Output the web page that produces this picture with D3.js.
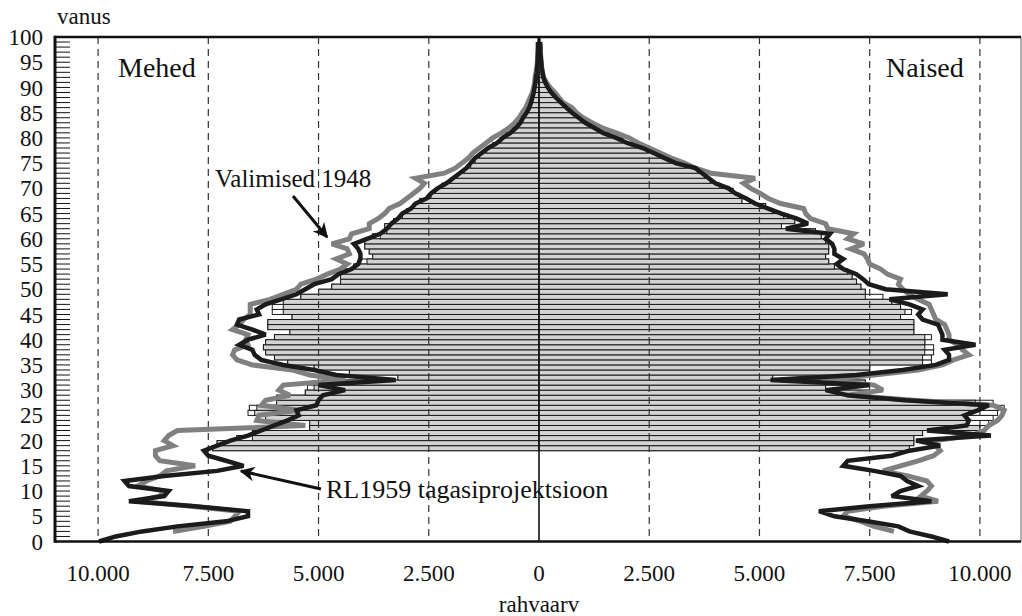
<!DOCTYPE html>
<html><head><meta charset="utf-8">
<script src="https://cdn.jsdelivr.net/npm/d3@7"></script>
<style>html,body{margin:0;padding:0;background:#fff;}svg{display:block;}</style>
</head><body>
<script>
// ---- DATA (values in thousands of people) ----
const ages = d3.range(0, 100);          // 0..99 (line points)
const barAges = d3.range(18, 100);      // 18..99 (bars)

const maleRL1959 = [
 9.98,9.6,9.0,8.2,7.1,6.6,6.6,7.8,9.3,8.5,
 8.4,9.3,9.4,8.5,7.3,6.7,7.1,7.5,7.6,7.3,
 7.0,6.6,6.3,6.0,5.7,5.45,5.5,5.05,5.0,4.9,
 4.4,5.0,3.25,4.6,5.1,5.8,6.3,6.45,6.5,6.8,
 6.6,6.2,6.5,6.85,6.8,6.35,6.4,6.2,5.85,5.5,
 5.3,5.1,4.7,4.55,4.25,4.1,4.05,4.05,4.1,4.2,
 3.9,3.6,3.45,3.35,3.2,3.1,2.9,2.8,2.55,2.45,
 2.3,2.1,1.95,1.8,1.65,1.55,1.45,1.3,1.15,0.95,
 0.82,0.65,0.52,0.42,0.36,0.28,0.22,0.18,0.15,0.12,
 0.1,0.08,0.07,0.05,0.04,0.03,0.03,0.02,0.02,0.02];

const maleVal1948 = [
 null,null,8.3,7.6,7.0,6.9,6.8,7.9,9.1,8.6,
 8.5,9.1,8.9,8.6,8.45,7.8,8.6,8.7,8.7,8.3,
 8.5,8.4,8.2,5.3,6.4,6.35,5.45,6.3,6.2,5.65,
 5.9,5.8,4.4,5.2,5.6,6.5,6.85,6.95,6.9,6.6,
 6.65,6.6,6.95,6.8,6.7,6.55,6.55,6.55,6.1,5.8,
 5.5,5.4,5.05,4.8,4.5,4.35,4.6,4.3,4.35,4.7,
 4.3,4.25,3.85,3.85,3.65,3.5,3.4,3.15,3.0,2.85,
 2.7,2.6,2.8,2.15,1.9,1.75,1.6,1.5,1.35,1.2,
 1.05,0.85,0.68,0.55,0.45,0.38,0.3,0.25,0.2,0.15,
 0.12,0.1,0.09,0.07,0.05,0.04,0.03,0.03,0.02,0.02];

const femaleRL1959 = [
 9.3,8.9,8.4,8.15,7.45,6.7,6.35,7.5,8.9,8.0,
 8.2,8.6,8.35,8.2,7.6,6.9,7.0,8.0,8.4,9.1,
 8.55,10.25,8.8,9.7,9.75,9.65,9.95,10.2,8.3,7.0,
 6.5,7.5,5.25,7.2,8.25,9.0,9.3,9.3,9.2,9.9,
 9.15,9.15,9.1,9.05,8.7,8.6,8.7,8.4,7.95,9.27,
 7.86,7.48,7.35,7.2,6.9,6.75,6.9,6.7,6.7,6.65,
 6.5,6.6,5.6,6.1,5.85,5.5,5.2,4.9,4.7,4.45,
 4.3,4.0,3.85,3.7,3.55,3.1,2.85,2.6,2.35,2.0,
 1.75,1.45,1.25,1.05,0.9,0.75,0.62,0.5,0.38,0.28,
 0.2,0.14,0.1,0.08,0.06,0.05,0.04,0.03,0.03,0.02];

const femaleVal1948 = [
 null,null,8.05,7.6,7.3,6.9,7.0,7.8,9.05,8.66,
 8.8,8.9,8.8,8.36,7.8,8.2,8.6,8.95,9.1,9.0,
 9.0,9.8,10.1,10.2,10.4,10.5,10.55,10.3,8.5,7.0,
 7.8,7.6,6.4,7.6,8.6,9.15,9.4,9.75,9.6,9.5,
 9.3,9.3,9.25,9.2,9.0,8.95,8.9,8.85,8.6,8.4,
 8.25,8.15,8.2,7.9,7.75,7.5,7.45,7.37,7.07,7.37,
 7.0,7.14,6.55,6.5,6.16,6.05,6.0,5.48,5.2,5.02,
 4.8,4.64,4.9,3.9,3.55,3.3,3.0,2.75,2.5,2.25,
 2.05,1.75,1.43,1.2,1.0,0.85,0.75,0.55,0.45,0.36,
 0.25,0.17,0.1,0.08,0.06,0.05,0.04,0.03,0.03,0.02];

// bars, ages 18..99
const maleBarGrey = [
 7.4,7.3,6.5,6.5,5.2,5.2,6.2,6.45,6.4,5.95,
 5.95,5.3,5.1,4.9,3.2,4.3,5.1,5.7,6.0,6.2,
 6.25,6.2,6.0,5.65,6.15,6.15,5.6,5.8,5.8,5.8,
 5.4,5.0,4.7,4.5,4.5,4.4,4.2,3.9,3.77,3.85,
 3.95,3.95,3.6,3.45,3.5,3.3,3.1,3.0,2.85,2.7,
 2.45,2.35,2.2,2.0,1.85,1.7,1.55,1.45,1.35,1.2,
 1.05,0.88,0.75,0.6,0.48,0.38,0.32,0.25,0.2,0.16,
 0.13,0.1,0.08,0.07,0.06,0.05,0.04,0.03,0.03,0.02,
 0.02,0.02];
const maleBarWhite = [
 7.4,7.3,6.86,6.5,5.2,5.2,6.2,6.6,6.57,5.95,
 5.95,5.3,5.25,4.9,3.2,4.3,5.1,5.7,6.0,6.2,
 6.25,6.2,6.0,5.65,6.15,6.15,5.6,6.05,6.05,6.05,
 5.4,5.0,4.7,4.5,4.5,4.4,4.2,4.1,3.77,3.85,
 3.95,3.95,3.78,3.45,3.5,3.3,3.1,3.0,2.85,2.7,
 2.45,2.35,2.2,2.0,1.85,1.7,1.55,1.45,1.35,1.2,
 1.05,0.88,0.75,0.6,0.48,0.38,0.32,0.25,0.2,0.16,
 0.13,0.1,0.08,0.07,0.06,0.05,0.04,0.03,0.03,0.02,
 0.02,0.02];
const femaleBarGrey = [
 8.4,8.5,8.5,8.7,10.0,9.7,9.7,9.75,9.97,9.9,
 7.5,7.5,6.5,7.4,5.3,7.5,7.5,8.7,8.7,8.75,
 8.75,8.75,8.75,8.5,8.5,8.5,8.2,8.3,8.2,8.0,
 7.4,7.4,7.3,7.2,7.1,7.0,6.7,6.57,6.5,6.57,
 6.57,6.5,6.4,6.27,5.5,5.8,5.55,5.3,5.14,4.6,
 4.55,4.4,4.1,3.88,3.75,3.6,3.3,3.0,2.75,2.45,
 2.2,1.9,1.6,1.35,1.16,1.0,0.9,0.7,0.55,0.45,
 0.35,0.25,0.17,0.1,0.07,0.05,0.04,0.03,0.03,0.02,
 0.02,0.02];
const femaleBarWhite = [
 8.4,8.5,8.5,8.7,10.15,10.2,10.3,10.4,10.55,10.3,
 7.5,7.5,6.5,7.4,5.3,7.5,7.5,8.9,8.9,8.95,
 8.95,8.75,8.9,8.5,8.5,8.5,8.2,8.45,8.2,8.0,
 7.8,7.4,7.3,7.2,7.1,7.0,6.7,6.57,6.5,6.57,
 6.57,6.5,6.4,6.27,5.5,5.8,5.55,5.3,5.14,4.6,
 4.55,4.4,4.1,3.88,3.75,3.6,3.3,3.0,2.75,2.45,
 2.2,1.9,1.6,1.35,1.16,1.0,0.9,0.7,0.55,0.45,
 0.35,0.25,0.17,0.1,0.07,0.05,0.04,0.03,0.03,0.02,
 0.02,0.02];

const xTickValues = [-10000,-7500,-5000,-2500,0,2500,5000,7500,10000];
const xTickLabels = ["10.000","7.500","5.000","2.500","0","2.500","5.000","7.500","10.000"];
const yTickValues = d3.range(0, 101, 5);
const gridValues = [-10000,-7500,-5000,-2500,2500,5000,7500,10000];

// ---- DRAW ----
const W = 1022, H = 616;
const svg = d3.select("body").append("svg").attr("width", W).attr("height", H);
const FONT = "'Liberation Serif'";

const x = d3.scaleLinear().domain([-11000, 11000]).range([54, 1024]);
const y = d3.scaleLinear().domain([0, 100]).range([541.5, 37]);
const left = 55, right = 1021;

svg.append("defs").append("marker")
  .attr("id","arr").attr("viewBox","0 0 10 10").attr("refX",9).attr("refY",5)
  .attr("markerWidth",5).attr("markerHeight",5).attr("orient","auto-start-reverse")
  .attr("markerUnits","strokeWidth")
  .append("path").attr("d","M0,0 L10,5 L0,10 L3,5 Z").attr("fill","#111");

// bars
function drawBars(vals, sign, fill, cls) {
  svg.append("g").selectAll("rect." + cls).data(barAges).join("rect")
    .attr("class", cls)
    .attr("x", (a, i) => sign < 0 ? x(-vals[i] * 1000) : x(0))
    .attr("width", (a, i) => Math.abs(x(vals[i] * 1000) - x(0)))
    .attr("y", a => y(a + 1))
    .attr("height", a => y(a) - y(a + 1))
    .attr("fill", fill).attr("stroke", "#1a1a1a").attr("stroke-width", 1);
}
drawBars(maleBarWhite, -1, "#ffffff", "mw");
drawBars(femaleBarWhite, 1, "#ffffff", "fw");
drawBars(maleBarGrey, -1, "#d3d3d3", "mg");
drawBars(femaleBarGrey, 1, "#d3d3d3", "fg");

// grid
svg.append("g").selectAll("line").data(gridValues).join("line")
  .attr("x1", d => x(d)).attr("x2", d => x(d))
  .attr("y1", y(100)).attr("y2", y(0))
  .attr("stroke", "#333").attr("stroke-width", 1.2).attr("stroke-dasharray", "7,5");
svg.append("line").attr("x1", x(0)).attr("x2", x(0)).attr("y1", y(100)).attr("y2", y(0))
  .attr("stroke", "#111").attr("stroke-width", 1.6);

// minor ticks
svg.append("g").selectAll("line").data(d3.range(0, 101)).join("line")
  .attr("x1", left).attr("x2", left + 15)
  .attr("y1", d => y(d)).attr("y2", d => y(d))
  .attr("stroke", "#111").attr("stroke-width", 1);

// lines
function drawLine(vals, sign, color, width) {
  const line = d3.line()
    .defined((a, i) => vals[i] !== null)
    .x((a, i) => x(sign * vals[i] * 1000))
    .y(a => y(a));
  svg.append("path").datum(ages).attr("d", line)
    .attr("fill", "none").attr("stroke", color).attr("stroke-width", width)
    .attr("stroke-linejoin", "miter").attr("stroke-miterlimit", 3);
}
drawLine(maleVal1948, -1, "#808080", 5);
drawLine(femaleVal1948, 1, "#808080", 5);
drawLine(maleRL1959, -1, "#1b1b1b", 4.5);
drawLine(femaleRL1959, 1, "#1b1b1b", 4.5);

// frame
svg.append("line").attr("x1", right).attr("x2", right).attr("y1", y(100)).attr("y2", y(0))
  .attr("stroke", "#999").attr("stroke-width", 1.5);
svg.append("line").attr("x1", left).attr("x2", right).attr("y1", y(100)).attr("y2", y(100))
  .attr("stroke", "#111").attr("stroke-width", 2.5);
svg.append("line").attr("x1", left).attr("x2", right).attr("y1", y(0)).attr("y2", y(0))
  .attr("stroke", "#111").attr("stroke-width", 2.5);
svg.append("line").attr("x1", left).attr("x2", left).attr("y1", y(100) - 1.2).attr("y2", y(0) + 1.2)
  .attr("stroke", "#111").attr("stroke-width", 3);

// y tick labels
svg.append("g").selectAll("text").data(yTickValues).join("text")
  .attr("x", 43).attr("y", d => y(d)).attr("dy", "0.35em")
  .attr("text-anchor", "end").style("font-family", FONT).style("font-size", "23px")
  .attr("fill", "#111").text(d => d);

// x tick labels
svg.append("g").selectAll("text").data(xTickValues).join("text")
  .attr("x", d => x(d)).attr("y", 581)
  .attr("text-anchor", "middle").style("font-family", FONT).style("font-size", "23px")
  .attr("fill", "#111").text((d, i) => xTickLabels[i]);

function txt(s, tx, ty, size, anchor) {
  svg.append("text").attr("x", tx).attr("y", ty).style("font-family", FONT)
    .style("font-size", size + "px").attr("text-anchor", anchor || "start").attr("fill", "#111").text(s);
}
txt("vanus", 57, 24, 23);
txt("rahvaarv", x(0), 612, 23, "middle");
txt("Mehed", 118, 77, 28);
txt("Naised", 886, 77, 28);
txt("Valimised 1948", 215, 187, 25);
txt("RL1959 tagasiprojektsioon", 326, 498, 26);

// arrows
svg.append("line").attr("x1", 293).attr("y1", 196).attr("x2", 327).attr("y2", 237)
  .attr("stroke", "#111").attr("stroke-width", 3).attr("marker-end", "url(#arr)");
svg.append("line").attr("x1", 321).attr("y1", 489).attr("x2", 241).attr("y2", 471)
  .attr("stroke", "#111").attr("stroke-width", 3).attr("marker-end", "url(#arr)");
</script>
</body></html>
